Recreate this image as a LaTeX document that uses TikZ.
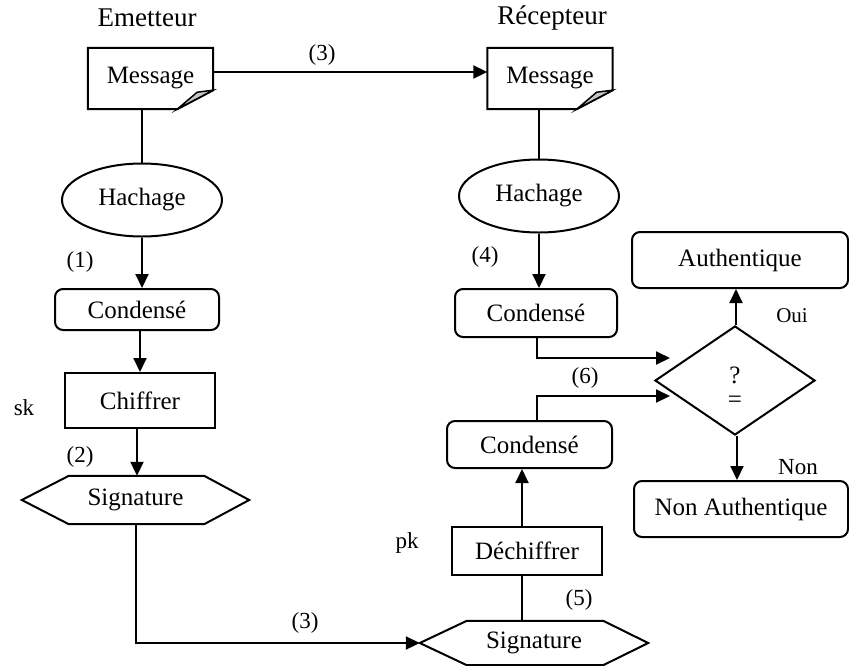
\documentclass[tikz,border=0pt]{standalone}
\usepackage{fontspec}
\setmainfont{Liberation Serif}
\usetikzlibrary{arrows.meta,shapes.geometric,calc}
\begin{document}
\begin{tikzpicture}[x=1pt,y=-1pt,
  line/.style={line width=2pt},
  arr/.style={line width=2pt,-{Triangle[length=14pt,width=13pt]}},
  txt/.style={font=\fontsize{25}{28}\selectfont,inner sep=0pt},
  ttl/.style={font=\fontsize{27}{30}\selectfont,inner sep=0pt},
  lbl/.style={font=\fontsize{23}{26}\selectfont,inner sep=0pt},
  rbox/.style={txt,draw,line width=2pt,rounded corners=8pt},
  sbox/.style={txt,draw,line width=2pt},
  docbox/.style={txt,minimum width=125pt,minimum height=61pt},
  ell/.style={txt,draw,line width=2pt,ellipse,minimum width=160pt,minimum height=73pt},
  dia/.style={txt,draw,line width=2pt,diamond,minimum width=160pt,minimum height=109pt}
]
\useasboundingbox (0,0) rectangle (849,665);

\newcommand\docfold[1]{%
  \draw[line,line join=miter] (#1.north west) -- (#1.north east) -- ([yshift=19pt]#1.south east)
     -- ([xshift=-36pt]#1.south east) -- (#1.south west) -- cycle;
  \filldraw[line width=1.5pt,fill=gray!45] ([xshift=-36pt]#1.south east) -- ([yshift=19pt]#1.south east)
     -- ([xshift=-16pt,yshift=17pt]#1.south east) -- cycle;}
\newcommand\hexa[1]{%
  \draw[line] (#1.west) -- ([xshift=47pt]#1.north west) -- ([xshift=-45pt]#1.north east)
     -- (#1.east) -- ([xshift=-45pt]#1.south east) -- ([xshift=47pt]#1.south west) -- cycle;}

% titles
\node[ttl] (tL) at (147,18) {Emetteur};
\node[ttl] (tR) at (552,18) {Récepteur};

% left column
\node[docbox] (msgL) at (150.5,78.5) {Message};
\docfold{msgL}
\node[ell] (hachL) at (142,200) {Hachage};
\node[rbox,minimum width=164pt,minimum height=41pt] (condL) at (137,309.5) {Condensé};
\node[sbox,minimum width=150pt,minimum height=55pt] (chif) at (140,400.5) {Chiffrer};
\node[txt,minimum width=227pt,minimum height=48pt] (sigL) at (135.5,500) {Signature};
\hexa{sigL}

% right column
\node[docbox] (msgR) at (550,78.5) {Message};
\docfold{msgR}
\node[ell] (hachR) at (539,196) {Hachage};
\node[rbox,minimum width=162pt,minimum height=48pt] (condR1) at (536,313) {Condensé};
\node[rbox,minimum width=165pt,minimum height=47pt] (condR2) at (529.5,444.5) {Condensé};
\node[sbox,minimum width=150pt,minimum height=48pt] (dech) at (527,551) {Déchiffrer};
\node[txt,minimum width=228pt,minimum height=44pt] (sigR) at (534,643) {Signature};
\hexa{sigR}

% decision
\node[dia] (diam) at (735,380.5) {};
\node[txt] (q) at (735,375) {?};
\node[txt] (eq) at (735,402) {=};
\node[rbox,minimum width=216pt,minimum height=56pt] (auth) at (740,260) {Authentique};
\node[rbox,minimum width=214pt,minimum height=56pt] (nauth) at (741,509) {Non Authentique};

% labels
\node[lbl] (l3a) at (322,55) {(3)};
\node[lbl] (l1) at (80,262) {(1)};
\node[lbl] (l2) at (80,457) {(2)};
\node[lbl] (lsk) at (24,408) {sk};
\node[lbl] (l3b) at (305,623) {(3)};
\node[lbl] (l4) at (485,257) {(4)};
\node[lbl] (l5) at (579,600) {(5)};
\node[lbl] (l6) at (585,378) {(6)};
\node[lbl] (lpk) at (407,543) {pk};
\node[font=\fontsize{21}{24}\selectfont,inner sep=0pt] (loui) at (792,316) {Oui};
\node[lbl] (lnon) at (798,467) {Non};

% coordinates for free ends
\coordinate (t4) at (670,358);
\coordinate (t6) at (670,396);

% connectors
\draw[arr] ([yshift=6.5pt]msgL.east) -- ([yshift=6.5pt]msgR.west);
\draw[line] (hachL.north) -- (hachL.north |- msgL.south);
\draw[arr] (hachL.south) -- (hachL.south |- condL.north);
\draw[arr] ([xshift=3pt]condL.south) -- ([xshift=3pt]condL.south |- chif.north);
\draw[arr] ([xshift=-3pt]chif.south) -- ([xshift=-3pt]chif.south |- sigL.north);
\draw[arr] (sigL.south) |- (sigR.west);

\draw[line] (hachR.north) -- (hachR.north |- msgR.south);
\draw[arr] (hachR.south) -- (hachR.south |- condR1.north);
\draw[arr] ([xshift=1pt]condR1.south) |- (t4);
\draw[arr] ([xshift=7.5pt]condR2.north) |- (t6);
\draw[line] ([xshift=-12pt]sigR.north) -- ([xshift=-12pt]sigR.north |- dech.south);
\draw[arr] ([xshift=-5pt]dech.north) -- ([xshift=-5pt]dech.north |- condR2.south);
\draw[arr] ([xshift=1pt]diam.north) -- ([xshift=1pt]diam.north |- auth.south);
\draw[arr] ([xshift=2pt]diam.south) -- ([xshift=2pt]diam.south |- nauth.north);
\end{tikzpicture}
\end{document}
